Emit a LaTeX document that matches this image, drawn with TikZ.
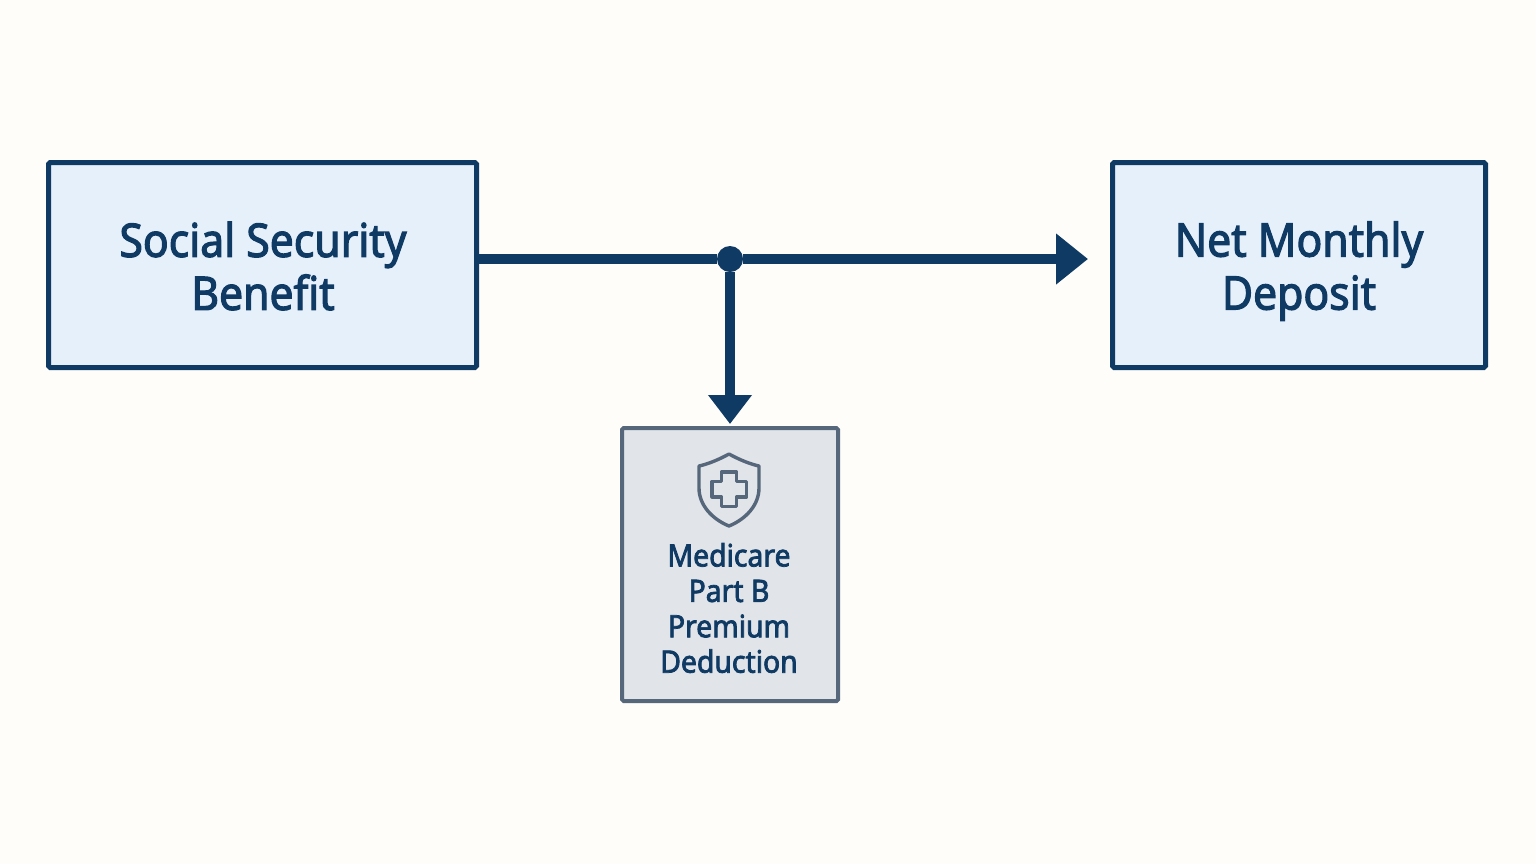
\documentclass[tikz,border=0pt]{standalone}
\usepackage{fontspec}
\setmainfont{Noto Sans}[FakeStretch=0.92,FakeBold=2.4]
\usetikzlibrary{arrows.meta,positioning}
\definecolor{bgcol}{HTML}{FEFDF9}
\definecolor{navy}{HTML}{0F3A63}
\definecolor{bluefill}{HTML}{E6F0FB}
\definecolor{slate}{HTML}{56677C}
\definecolor{greyfill}{HTML}{E1E4E8}
\tikzset{
	bluebox/.style={draw=navy,fill=bluefill,line width=2.5pt,rounded corners=0.8pt,minimum width=#1,minimum height=102.5pt,inner sep=0pt},
	bigtext/.style={text=navy,font=\fontsize{23.2}{26.5}\selectfont,align=center},
	smalltext/.style={text=navy,font=\fontsize{15.4}{17.7}\selectfont,align=center},
	flow/.style={draw=navy,line width=4.6pt}
}
\begin{document}
\begin{tikzpicture}[x=0.5pt,y=-0.5pt]
\fill[bgcol] (0,0) rectangle (1536,864);
\useasboundingbox (0,0) rectangle (1536,864);

\node[bluebox=214pt] (benefit) at (262.5,265) {};
\node[bluebox=186.5pt] (deposit) at (1299,265) {};
\node[draw=slate,fill=greyfill,line width=2pt,rounded corners=0.8pt,minimum width=108pt,minimum height=136.5pt,inner sep=0pt] (premium) at (730,564.5) {};

\node[bigtext] (benefittext) at (263,266) {Social Security\\Benefit};
\node[bigtext] (deposittext) at (1299,271) {Net Monthly\\Deposit};
\node[smalltext] (premiumtext) at (729,608) {Medicare\\Part B\\Premium\\Deduction};

% split point on the main line
\node[circle,fill=navy,minimum size=13pt,inner sep=0pt] (split) at (730,259) {};

\draw[flow] (benefit.east |- split) to (split);
\draw[flow,-{Triangle[length=16pt,width=24.5pt]},shorten >=11pt] (split) to (split -| deposit.west);
\draw[flow,-{Triangle[length=14.5pt,width=21pt]},shorten >=1pt] (split) to (premium.north);

% shield icon
\draw[slate,line width=1.7pt,line join=round] (729,454) .. controls (718,460) and (708,464) .. (699,466)
	-- (699,488) .. controls (699,505) and (712,519) .. (729,526)
	.. controls (746,519) and (759,505) .. (759,488) -- (759,466)
	.. controls (750,464) and (740,460) .. (729,454) -- cycle;
\draw[slate,line width=1.6pt,line join=round] (721.5,472) -- (736.5,472) -- (736.5,481.5) -- (746.5,481.5) -- (746.5,497) -- (736.5,497)
	-- (736.5,506.5) -- (721.5,506.5) -- (721.5,497) -- (712,497) -- (712,481.5) -- (721.5,481.5) -- cycle;
\end{tikzpicture}
\end{document}
